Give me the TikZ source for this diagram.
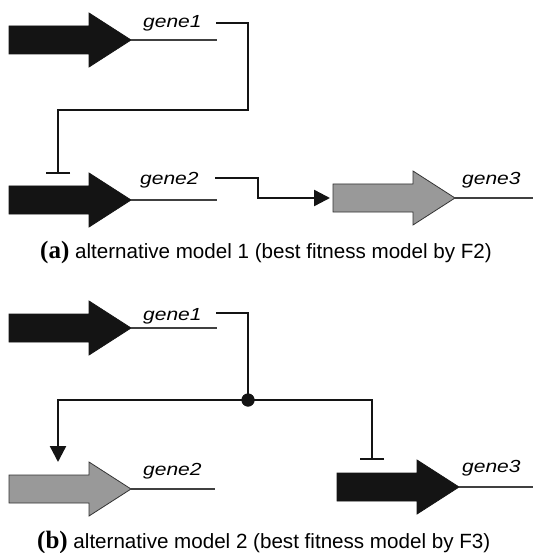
\documentclass[tikz,border=0pt]{standalone}
\usepackage{fontspec}
\setmainfont{Liberation Sans}
\newfontfamily\capserif{Liberation Serif}
\newfontfamily\genefont[FakeStretch=1.2]{Liberation Sans}
\usetikzlibrary{arrows.meta}
\newcommand\genearrow[4]{%
  \begin{scope}[shift={(#2,#3)}]
    \path[#4] (-122,-14) -- (-42,-14) -- (-42,-27) -- (0,0) -- (-42,27) -- (-42,14) -- (-122,14) -- cycle;
    \coordinate (#1tip) at (0,0);
    \coordinate (#1tail) at (-125,0);
  \end{scope}}
\begin{document}
\begin{tikzpicture}[x=1pt,y=-1pt,
  blackgene/.style={fill=black!92,draw=black!92,line width=0.8pt},
  graygene/.style={fill=black!40,draw=black!80,line width=0.8pt},
  geneline/.style={draw=black!75,line width=1.1pt},
  link/.style={draw=black!92,line width=2.4pt},
  act/.style={link,-{Triangle[length=16pt,width=16pt]}},
  rep/.style={link,-{Bar[width=24pt,line width=2.4pt]}},
  glabel/.style={anchor=base west,inner sep=0pt,font=\genefont\itshape\fontsize{17.5}{21}\selectfont},
  caption/.style={anchor=base west,inner sep=0pt,font=\fontsize{20.6}{24}\selectfont},
  junction/.style={circle,fill=black!92,inner sep=0pt,minimum size=13pt}]
\useasboundingbox (0,0) rectangle (533,553);

% ---------- panel (a) ----------
\genearrow{g1a}{131}{40}{blackgene}
\coordinate (g1aend) at (217,40);
\draw[geneline] (g1atip) -- (g1aend);
\node[glabel] (l1a) at (143,28) {gene1};

\genearrow{g2a}{131}{200}{blackgene}
\coordinate (g2aend) at (217,200);
\draw[geneline] (g2atip) -- (g2aend);
\node[glabel] (l2a) at (140,185) {gene2};

\genearrow{g3a}{455}{198}{graygene}
\coordinate (g3aend) at (533,198);
\draw[geneline] (g3atip) -- (g3aend);
\node[glabel] (l3a) at (462,185) {gene3};

\coordinate (s1a) at (216,23);
\coordinate (t2a) at (58,174);
\draw[rep] (s1a) -| (248,110) -| (t2a);

\coordinate (s2a) at (215,178);
\draw[act] (s2a) -| (258,198) -- (g3atail);

\node[caption] (capa) at (40,258) {{\capserif\bfseries\fontsize{25}{28}\selectfont(a)} alternative model 1 (best fitness model by F2)};

% ---------- panel (b) ----------
\genearrow{g1b}{131}{328}{blackgene}
\coordinate (g1bend) at (217,328);
\draw[geneline] (g1btip) -- (g1bend);
\node[glabel] (l1b) at (143,320) {gene1};

\genearrow{g2b}{131}{489}{graygene}
\coordinate (g2bend) at (215,489);
\draw[geneline] (g2btip) -- (g2bend);
\node[glabel] (l2b) at (143,475) {gene2};

\genearrow{g3b}{459}{487}{blackgene}
\coordinate (g3bend) at (533,487);
\draw[geneline] (g3btip) -- (g3bend);
\node[glabel] (l3b) at (462,472) {gene3};

\node[junction] (jn) at (248,400) {};
\coordinate (s1b) at (216,313);
\coordinate (t2b) at (58,462);
\coordinate (t3b) at (372,460);
\draw[link] (s1b) -| (jn.center);
\draw[act] (jn.center) -| (t2b);
\draw[rep] (jn.center) -| (t3b);
\node[junction] at (jn) {};

\node[caption] (capb) at (37,548) {{\capserif\bfseries\fontsize{25}{28}\selectfont(b)} alternative model 2 (best fitness model by F3)};
\end{tikzpicture}
\end{document}
